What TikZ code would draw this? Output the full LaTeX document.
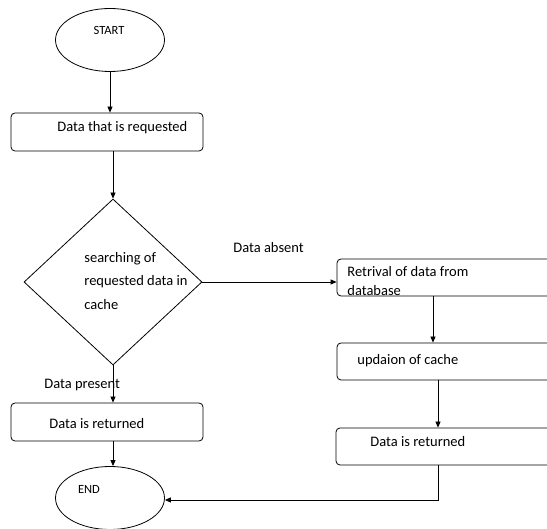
\documentclass[tikz,border=0pt]{standalone}
\usepackage{fontspec}
\setmainfont{Carlito}
\usetikzlibrary{shapes.geometric,arrows.meta}
\begin{document}
\begin{tikzpicture}[x=1pt,y=-1pt,
  line width=0.8pt,
  every node/.style={font=\fontsize{14.5}{17}\selectfont},
  term/.style={draw, ellipse, minimum width=109pt, minimum height=63pt, inner sep=0pt},
  procbox/.style={draw, rounded corners=4pt, minimum width=192pt, minimum height=38pt, inner sep=0pt},
  rbox/.style={draw, rounded corners=4pt, minimum width=230pt, minimum height=37pt, inner sep=0pt},
  decide/.style={draw, diamond, minimum width=178pt, minimum height=166pt, inner sep=0pt},
  lbl/.style={inner sep=0pt, anchor=west},
  flow/.style={-{Triangle[length=6pt,width=5pt]}}
]
\useasboundingbox (0,0) rectangle (547,529);
\fill[white] (0,0) rectangle (547,529);

% left column
\node[term] (start) at (110,40) {};
\node[lbl, anchor=center] (startt) at (109,30) {\fontsize{12.5}{14}\selectfont START};
\node[procbox] (req) at (107,132) {};
\node[lbl] (reqt) at (57,128) {Data that is requested};
\node[decide] (search) at (113,282) {};
\node[lbl, align=left, font=\fontsize{14.5}{23.5}\selectfont] (searcht) at (84,281) {searching of\\requested data in\\cache};
\node[procbox] (ret1) at (107,422) {};
\node[lbl] (ret1t) at (49,424) {Data is returned};
\node[term] (endn) at (110,498) {};
\node[lbl, anchor=center] (endt) at (89,489) {\fontsize{12.5}{14}\selectfont END};

% right column
\node[rbox] (db) at (452,277.5) {};
\node[lbl] (dbt1) at (347,272) {Retrival of data from};
\node[lbl] (dbt2) at (347,291) {database};
\node[rbox] (upd) at (452,361.5) {};
\node[lbl] (updt) at (357,361) {updaion of cache};
\node[rbox] (ret2) at (451,446.5) {};
\node[lbl] (ret2t) at (370,442) {Data is returned};

% labels
\node[lbl] (absent) at (233,248) {Data absent};
\node[lbl] (present) at (44,385) {Data present};

% connectors
\draw[flow] (start.south) -- (req.north -| start.south);
\draw[flow] (req.south -| search.north) -- (search.north);
\draw[flow] (search.east) -- (db.west |- search.east);
\draw[flow] (db.south -| 433,0) -- (upd.north -| 433,0);
\draw[flow] (upd.south -| 438,0) -- (ret2.north -| 438,0);
\draw[flow] (search.south) -- (ret1.north -| search.south);
\draw[flow] (ret1.south -| search.south) -- (endn.north -| search.south);
\coordinate (corner) at (ret2.south -| 438,0);
\draw[flow] (corner) -- (438,500) -- (endn.east |- 0,500);
\end{tikzpicture}
\end{document}
